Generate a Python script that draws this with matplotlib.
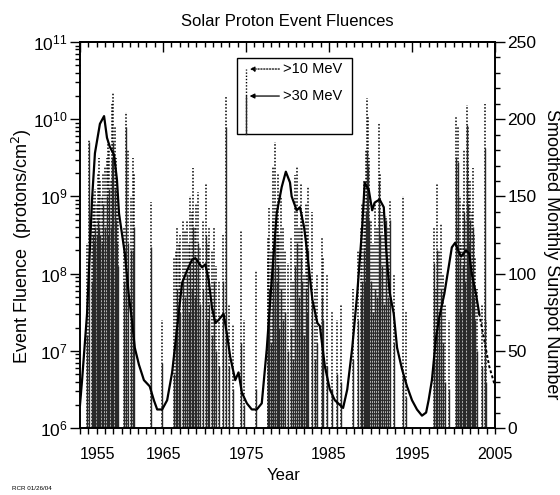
import matplotlib
matplotlib.use("Agg")
import matplotlib.pyplot as plt
import numpy as np
from matplotlib.ticker import FixedLocator, MultipleLocator, LogLocator, NullFormatter

plt.rcParams["font.family"] = ["Liberation Sans", "DejaVu Sans"]

# SOLAR PROTON EVENTS (year, log10 fluence >10 MeV, log10 fluence >30 MeV)
ev_year = [
    1955.9, 1956.1, 1956.4, 1956.55, 1956.65, 1956.75, 1956.85, 1957.0, 1957.15, 1957.3,
    1957.45, 1957.6, 1957.8, 1958.0, 1958.2, 1958.4, 1958.55, 1958.7, 1958.85, 1959.0,
    1959.2, 1959.35, 1959.5, 1959.6, 1960.3, 1960.6, 1960.75, 1961.2, 1961.4, 1961.5,
    1963.6, 1964.9,
    1966.3, 1966.55, 1966.7, 1966.9, 1967.1, 1967.4, 1967.6, 1967.9, 1968.1, 1968.3,
    1968.5, 1968.6, 1968.8, 1969.0, 1969.2, 1969.5, 1969.8, 1970.2, 1970.4, 1970.6,
    1970.9, 1971.1, 1971.4, 1971.7, 1972.2, 1972.6, 1973.0, 1973.4, 1974.4, 1974.7,
    1976.2,
    1977.6, 1977.7, 1977.8, 1978.0, 1978.2, 1978.3, 1978.5, 1978.7, 1978.8, 1979.0,
    1979.2, 1979.5, 1979.7, 1980.0, 1980.4, 1980.7, 1980.9, 1981.2, 1981.4, 1981.6,
    1981.8, 1982.0, 1982.2, 1982.4, 1982.5, 1982.9, 1983.3, 1983.6, 1984.1, 1984.3,
    1984.8, 1985.4, 1986.0, 1986.5,
    1987.9, 1988.5, 1988.8, 1989.0, 1989.2, 1989.3, 1989.45, 1989.6, 1989.75, 1989.85,
    1990.0, 1990.3, 1990.5, 1990.8, 1991.05, 1991.2, 1991.4, 1991.6, 1991.9, 1992.1,
    1992.3, 1992.8, 1993.9, 1994.3,
    1997.7, 1997.9, 1998.0, 1998.3, 1998.5, 1998.7, 1999.0, 1999.5, 2000.3, 2000.5,
    2000.6, 2000.8, 2000.9, 2001.2, 2001.3, 2001.4, 2001.6, 2001.7, 2001.8, 2001.9,
    2002.0, 2002.2, 2002.3, 2002.5, 2002.6, 2002.8, 2003.4, 2003.8, 2003.9,
]
ev_f10_exp = [
    8.4, 9.75, 8.6, 9.05, 8.9, 9.1, 8.7, 8.9, 9.3, 9.5,
    9.2, 9.0, 9.3, 9.4, 9.5, 9.7, 9.6, 9.2, 10.2, 10.34,
    9.9, 9.5, 9.1, 8.8, 8.6, 10.09, 9.6, 9.0, 9.5, 9.3,
    8.93, 7.4,
    8.2, 8.3, 8.6, 8.4, 8.5, 8.7, 8.55, 8.7, 8.4, 9.0,
    8.8, 9.37, 8.6, 8.9, 9.06, 8.33, 8.7, 9.17, 8.4, 8.6,
    8.3, 8.6, 8.1, 7.9, 8.5, 10.29, 7.6, 7.35, 8.56, 7.4,
    8.05,
    8.47, 8.2, 8.86, 8.3, 9.4, 8.7, 9.7, 8.9, 9.3, 8.5,
    9.0, 8.6, 8.3, 8.14, 8.47, 7.9, 9.28, 9.38, 8.6, 9.17,
    8.8, 8.0, 8.9, 8.5, 9.12, 8.8, 7.8, 8.0, 8.47, 8.2,
    8.0, 7.5, 7.4, 7.6,
    7.8, 8.3, 8.6, 8.9, 9.2, 8.7, 9.6, 10.27, 10.03, 9.5,
    8.7, 8.4, 8.9, 8.6, 9.95, 9.3, 8.8, 8.5, 8.74, 8.6,
    8.95, 8.0, 9.0, 7.5,
    8.6, 7.8, 9.17, 8.3, 8.65, 8.0, 7.6, 7.4, 10.03, 9.9,
    8.6, 9.0, 8.4, 8.9, 9.6, 8.7, 10.18, 9.4, 9.9, 9.0,
    9.2, 8.8, 9.37, 8.5, 8.2, 7.8, 7.6, 10.2, 7.4,
]
ev_f30_exp = [
    7.2, 9.7, 7.9, 8.5, 8.4, 8.6, 8.3, 8.5, 8.7, 8.6,
    8.5, 8.4, 8.9, 8.6, 9.0, 8.5, 9.1, 8.6, 9.5, 9.7,
    9.1, 8.7, 8.4, 8.1, 7.9, 9.9, 8.4, 8.3, 8.3, 8.6,
    8.35, 6.84,
    6.7, 7.3, 7.8, 7.6, 7.5, 7.9, 7.7, 8.0, 7.5, 8.1,
    7.8, 8.6, 7.7, 8.2, 8.4, 7.6, 7.8, 8.5, 7.4, 7.6,
    7.2, 7.9, 7.0, 6.8, 7.9, 9.9, 6.8, 6.5, 7.1, 6.3,
    6.5,
    7.2, 7.0, 7.8, 7.1, 8.3, 7.6, 8.5, 7.9, 8.1, 7.3,
    7.8, 7.4, 7.5, 7.0, 7.3, 6.9, 8.1, 8.4, 7.7, 8.2,
    7.9, 7.2, 7.8, 7.5, 8.3, 7.6, 6.9, 7.1, 7.7, 7.4,
    6.8, 6.5, 6.7, 6.6,
    6.9, 7.4, 7.7, 7.9, 8.3, 7.9, 8.8, 9.6, 9.4, 8.7,
    7.9, 7.5, 7.8, 7.7, 9.2, 8.5, 8.1, 7.6, 8.7, 7.7,
    8.7, 7.1, 6.66, 6.4,
    8.14, 6.9, 8.3, 7.4, 7.8, 7.1, 6.6, 6.5, 9.51, 9.45,
    7.8, 8.2, 7.5, 8.1, 8.8, 7.9, 9.92, 8.6, 8.9, 8.4,
    8.7, 8.0, 8.6, 7.7, 7.4, 7.0, 6.8, 9.63, 6.6,
]

# SMOOTHED MONTHLY SUNSPOT NUMBER
ssn_year = [
    1955.0, 1955.25, 1955.85, 1956.45, 1956.8, 1957.4, 1957.9, 1958.25, 1958.6, 1959.1,
    1959.45, 1959.7, 1960.05, 1960.4, 1960.9, 1961.3, 1961.6, 1962.1, 1962.7, 1963.4,
    1963.9, 1964.3, 1964.9, 1965.5, 1966.1, 1966.7, 1967.3, 1967.9, 1968.5, 1968.9,
    1969.3, 1969.7, 1970.1, 1970.5, 1970.9, 1971.3, 1971.7, 1972.3, 1972.7, 1973.1,
    1973.7, 1974.1, 1974.5, 1975.1, 1975.7, 1976.3, 1976.9, 1977.5, 1978.1, 1978.7,
    1979.3, 1979.8, 1980.3, 1980.5, 1981.1, 1981.5, 1982.0, 1982.3, 1983.0, 1983.6,
    1983.9, 1984.5, 1985.1, 1985.7, 1986.3, 1986.7, 1987.2, 1987.8, 1988.4, 1989.0,
    1989.3, 1989.8, 1990.2, 1990.5, 1991.1, 1991.6, 1991.9, 1992.3, 1992.8, 1993.2,
    1993.8, 1994.4, 1995.0, 1995.6, 1996.2, 1996.7, 1997.0, 1997.4, 1997.9, 1998.3,
    1998.9, 1999.5, 1999.8, 2000.2, 2000.4, 2000.9, 2001.5, 2001.9, 2002.2, 2002.7,
    2003.1,
]
ssn_value = [
    15, 31, 74, 148, 178, 197, 202, 188, 182, 177,
    161, 139, 126, 113, 85, 68, 52, 41, 31, 27,
    18, 12, 12, 18, 36, 65, 94, 102, 109, 110,
    107, 104, 106, 96, 78, 68, 70, 74, 61, 46,
    31, 36, 23, 16, 12, 12, 16, 51, 96, 139,
    156, 166, 159, 150, 141, 143, 130, 117, 83, 68,
    66, 40, 25, 18, 15, 13, 25, 52, 87, 130,
    159, 154, 141, 146, 148, 143, 115, 88, 74, 52,
    38, 27, 18, 12, 8, 10, 18, 31, 59, 72,
    87, 107, 117, 120, 117, 111, 115, 113, 100, 87,
    74,
]
# predicted tail
ssn_pred_year = [2003.1, 2003.7, 2004.3, 2004.9]
ssn_pred_value = [74, 57, 40, 29]

x_ticks = [1955, 1965, 1975, 1985, 1995, 2005]

fig = plt.figure(figsize=(5.6, 4.95), dpi=100)
ax = fig.add_axes([80 / 560, 67 / 495, 415 / 560, 386 / 495])

f10 = 10 ** np.array(ev_f10_exp)
f30 = 10 ** np.array(ev_f30_exp)
ax.vlines(ev_year, 1e6, f10, colors="black", linewidth=1.1,
          linestyles=[(0, (1, 1.2))])
ax.vlines(ev_year, 1e6, f30, colors="#2a2a2a", linewidth=1.0)

ax.set_yscale("log")
ax.set_ylim(1e6, 1e11)
ax.set_xlim(1955, 2005)
ax.yaxis.set_major_locator(LogLocator(base=10, numticks=10))
ax.yaxis.set_minor_locator(LogLocator(base=10, subs=np.arange(2, 10), numticks=20))
ax.yaxis.set_minor_formatter(NullFormatter())
ax.xaxis.set_major_locator(FixedLocator(x_ticks))
ax.xaxis.set_minor_locator(MultipleLocator(1))
ax.set_xticklabels([str(t) for t in x_ticks])
ax.get_xticklabels()[0].set_horizontalalignment("left")

ax.tick_params(axis="x", which="major", direction="out", length=4.5, width=1, pad=9,
               labelsize=11.5)
ax.tick_params(axis="x", which="minor", direction="out", length=4, width=1)
ax.tick_params(axis="y", which="major", direction="out", length=7, width=1, pad=2,
               labelsize=12.5)
ax.tick_params(axis="y", which="minor", direction="out", length=3.5, width=1)

top = ax.secondary_xaxis("top")
top.xaxis.set_major_locator(FixedLocator(x_ticks))
top.xaxis.set_minor_locator(MultipleLocator(1))
top.tick_params(which="major", direction="in", length=7, width=1, labeltop=False)
top.tick_params(which="minor", direction="in", length=3.5, width=1)

ax2 = ax.twinx()
ax2.plot(ssn_year, ssn_value, color="black", linewidth=1.6, zorder=5)
ax2.plot(ssn_pred_year, ssn_pred_value, color="black", linewidth=1.4,
         linestyle=(0, (1.5, 1.2)), zorder=5)
ax2.set_ylim(0, 250)
ax2.yaxis.set_major_locator(MultipleLocator(50))
ax2.yaxis.set_minor_locator(MultipleLocator(10))
ax2.tick_params(which="major", direction="out", length=7, width=1, pad=2, labelsize=12.5)
ax2.tick_params(which="minor", direction="out", length=3.5, width=1)

for a in (ax, ax2):
    for s in a.spines.values():
        s.set_linewidth(1.2)
top.spines["top"].set_linewidth(1.2)

# legend box drawn by hand
ax2.add_patch(plt.Rectangle((0.378, 0.762), 0.277, 0.197, transform=ax2.transAxes,
                            facecolor="white", edgecolor="black", linewidth=1.0,
                            zorder=10))
ax2.plot([0.399, 0.399], [0.762, 0.930], transform=ax2.transAxes, color="black",
         linewidth=1.0, linestyle=(0, (1, 1.3)), zorder=11)
ax2.plot([0.399, 0.399], [0.762, 0.860], transform=ax2.transAxes, color="#2a2a2a",
         linewidth=1.0, zorder=11)
ax2.annotate("", xy=(0.402, 0.930), xytext=(0.487, 0.930), xycoords="axes fraction",
             arrowprops=dict(arrowstyle="-|>", color="black", lw=0.9,
                             linestyle=(0, (1, 1.3)), mutation_scale=7), zorder=11)
ax2.annotate("", xy=(0.402, 0.860), xytext=(0.487, 0.860), xycoords="axes fraction",
             arrowprops=dict(arrowstyle="-|>", color="black", lw=0.9, mutation_scale=7),
             zorder=11)
ax2.text(0.489, 0.930, ">10 MeV", transform=ax2.transAxes, va="center", ha="left",
         fontsize=10.5, zorder=12)
ax2.text(0.489, 0.860, ">30 MeV", transform=ax2.transAxes, va="center", ha="left",
         fontsize=10.5, zorder=12)

ax.set_ylabel("Event Fluence  (protons/cm$^2$)", fontsize=13, va="center")
ax.yaxis.set_label_coords(-0.14, 0.47)
ax2.set_ylabel("Smoothed Monthly Sunspot Number", fontsize=13, rotation=270,
               va="center")
ax2.yaxis.set_label_coords(1.137, 0.45)

fig.text(287 / 560, 1 - 21 / 495, "Solar Proton Event Fluences", ha="center",
         va="center", fontsize=12)
fig.text(284 / 560, 1 - 476 / 495, "Year", ha="center", va="center", fontsize=12)
fig.text(12 / 560, 1 - 489 / 495, "RCR 01/26/04", ha="left", va="center", fontsize=4.5)

fig.savefig("out.png", dpi=100)
